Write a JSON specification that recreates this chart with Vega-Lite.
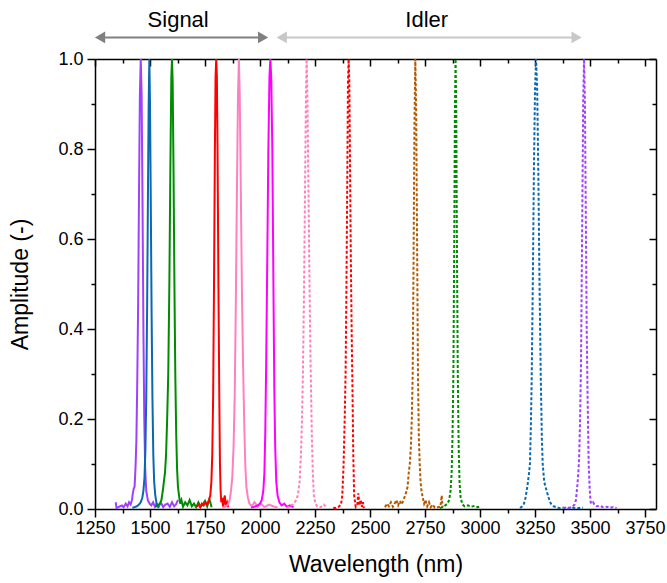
{
  "$schema": "https://vega.github.io/schema/vega-lite/v6.json",
  "width": 561,
  "height": 450,
  "autosize": {"type": "none"},
  "padding": {"left": 95, "top": 59, "right": 11, "bottom": 74},
  "background": "white",
  "config": {
    "view": {"stroke": null},
    "font": "Liberation Sans",
    "axis": {"grid": false, "domainColor": "black", "domainWidth": 1.5, "tickColor": "black", "tickWidth": 1.5, "labelColor": "black", "titleColor": "black", "labelFont": "Liberation Sans", "titleFont": "Liberation Sans", "labelFontSize": 18, "titleFontSize": 23, "titleFontWeight": "normal", "labelOverlap": false, "labelFlush": false}
  },
  "datasets": {
    "arrows": [
      {"s": "Signal", "a": 1242, "b": 2045, "m": 1628},
      {"s": "Idler", "a": 2068, "b": 3470, "m": 2758}
    ]
  },
  "data": {"values": [
    {"s":"S1","x":1344,"y":0.015},{"s":"S1","x":1348,"y":0.002},{"s":"S1","x":1360,"y":0.005},{"s":"S1","x":1372,"y":0.008},{"s":"S1","x":1380,"y":0.004},{"s":"S1","x":1390,"y":0.012},{"s":"S1","x":1398,"y":0.006},{"s":"S1","x":1405,"y":0.015},{"s":"S1","x":1412,"y":0.01},{"s":"S1","x":1418,"y":0.02},{"s":"S1","x":1422,"y":0.035},{"s":"S1","x":1426,"y":0.045},{"s":"S1","x":1430,"y":0.05},{"s":"S1","x":1434,"y":0.09},{"s":"S1","x":1438,"y":0.15},{"s":"S1","x":1442,"y":0.28},{"s":"S1","x":1446,"y":0.45},{"s":"S1","x":1450,"y":0.7},{"s":"S1","x":1454,"y":0.92},{"s":"S1","x":1458,"y":1.0},{"s":"S1","x":1462,"y":0.92},{"s":"S1","x":1466,"y":0.68},{"s":"S1","x":1470,"y":0.4},{"s":"S1","x":1474,"y":0.2},{"s":"S1","x":1478,"y":0.09},{"s":"S1","x":1483,"y":0.04},{"s":"S1","x":1490,"y":0.02},{"s":"S1","x":1498,"y":0.012},{"s":"S1","x":1506,"y":0.008},{"s":"S1","x":1514,"y":0.015},{"s":"S1","x":1522,"y":0.005},{"s":"S1","x":1530,"y":0.012},{"s":"S1","x":1540,"y":0.006},{"s":"S1","x":1550,"y":0.014},{"s":"S1","x":1560,"y":0.004},{"s":"S1","x":1570,"y":0.01},{"s":"S1","x":1580,"y":0.012},{"s":"S1","x":1590,"y":0.005},{"s":"S1","x":1600,"y":0.015},{"s":"S1","x":1610,"y":0.006},{"s":"S1","x":1618,"y":0.01},{"s":"S1","x":1627,"y":0.02},
    {"s":"S2","x":1420,"y":0.003},{"s":"S2","x":1430,"y":0.004},{"s":"S2","x":1440,"y":0.006},{"s":"S2","x":1450,"y":0.01},{"s":"S2","x":1458,"y":0.015},{"s":"S2","x":1465,"y":0.025},{"s":"S2","x":1470,"y":0.04},{"s":"S2","x":1475,"y":0.07},{"s":"S2","x":1479,"y":0.13},{"s":"S2","x":1483,"y":0.25},{"s":"S2","x":1487,"y":0.45},{"s":"S2","x":1491,"y":0.72},{"s":"S2","x":1494,"y":0.9},{"s":"S2","x":1497,"y":1.0},{"s":"S2","x":1500,"y":0.9},{"s":"S2","x":1503,"y":0.72},{"s":"S2","x":1507,"y":0.45},{"s":"S2","x":1511,"y":0.25},{"s":"S2","x":1515,"y":0.12},{"s":"S2","x":1519,"y":0.06},{"s":"S2","x":1524,"y":0.03},{"s":"S2","x":1530,"y":0.012},{"s":"S2","x":1536,"y":0.005},{"s":"S2","x":1542,"y":0.003},
    {"s":"S3","x":1523,"y":0.005},{"s":"S3","x":1535,"y":0.008},{"s":"S3","x":1545,"y":0.012},{"s":"S3","x":1552,"y":0.02},{"s":"S3","x":1558,"y":0.04},{"s":"S3","x":1563,"y":0.06},{"s":"S3","x":1568,"y":0.08},{"s":"S3","x":1573,"y":0.12},{"s":"S3","x":1578,"y":0.2},{"s":"S3","x":1583,"y":0.3},{"s":"S3","x":1588,"y":0.5},{"s":"S3","x":1593,"y":0.78},{"s":"S3","x":1597,"y":0.96},{"s":"S3","x":1600,"y":1.0},{"s":"S3","x":1603,"y":0.95},{"s":"S3","x":1607,"y":0.75},{"s":"S3","x":1611,"y":0.5},{"s":"S3","x":1615,"y":0.3},{"s":"S3","x":1619,"y":0.17},{"s":"S3","x":1623,"y":0.09},{"s":"S3","x":1627,"y":0.05},{"s":"S3","x":1632,"y":0.03},{"s":"S3","x":1637,"y":0.012},{"s":"S3","x":1643,"y":0.02},{"s":"S3","x":1650,"y":0.005},{"s":"S3","x":1660,"y":0.015},{"s":"S3","x":1670,"y":0.008},{"s":"S3","x":1680,"y":0.02},{"s":"S3","x":1690,"y":0.006},{"s":"S3","x":1700,"y":0.012},{"s":"S3","x":1710,"y":0.004},{"s":"S3","x":1720,"y":0.015},{"s":"S3","x":1730,"y":0.005},{"s":"S3","x":1740,"y":0.01},{"s":"S3","x":1750,"y":0.018},{"s":"S3","x":1760,"y":0.006},{"s":"S3","x":1770,"y":0.022},{"s":"S3","x":1780,"y":0.004},
    {"s":"S4","x":1712,"y":0.005},{"s":"S4","x":1720,"y":0.01},{"s":"S4","x":1728,"y":0.004},{"s":"S4","x":1736,"y":0.012},{"s":"S4","x":1744,"y":0.008},{"s":"S4","x":1752,"y":0.015},{"s":"S4","x":1760,"y":0.01},{"s":"S4","x":1768,"y":0.02},{"s":"S4","x":1774,"y":0.03},{"s":"S4","x":1779,"y":0.06},{"s":"S4","x":1783,"y":0.12},{"s":"S4","x":1787,"y":0.25},{"s":"S4","x":1791,"y":0.5},{"s":"S4","x":1795,"y":0.8},{"s":"S4","x":1798,"y":0.96},{"s":"S4","x":1801,"y":1.0},{"s":"S4","x":1804,"y":0.96},{"s":"S4","x":1807,"y":0.8},{"s":"S4","x":1811,"y":0.5},{"s":"S4","x":1815,"y":0.25},{"s":"S4","x":1818,"y":0.1},{"s":"S4","x":1821,"y":0.04},{"s":"S4","x":1824,"y":0.015},{"s":"S4","x":1828,"y":0.025},{"s":"S4","x":1832,"y":0.005},{"s":"S4","x":1836,"y":0.02},{"s":"S4","x":1840,"y":0.03},{"s":"S4","x":1844,"y":0.008},{"s":"S4","x":1850,"y":0.015},{"s":"S4","x":1855,"y":0.004},
    {"s":"S5","x":1830,"y":0.003},{"s":"S5","x":1845,"y":0.006},{"s":"S5","x":1855,"y":0.01},{"s":"S5","x":1862,"y":0.02},{"s":"S5","x":1868,"y":0.04},{"s":"S5","x":1874,"y":0.07},{"s":"S5","x":1880,"y":0.14},{"s":"S5","x":1885,"y":0.25},{"s":"S5","x":1890,"y":0.45},{"s":"S5","x":1895,"y":0.7},{"s":"S5","x":1900,"y":0.92},{"s":"S5","x":1904,"y":1.0},{"s":"S5","x":1908,"y":0.92},{"s":"S5","x":1913,"y":0.7},{"s":"S5","x":1918,"y":0.48},{"s":"S5","x":1923,"y":0.32},{"s":"S5","x":1928,"y":0.2},{"s":"S5","x":1933,"y":0.1},{"s":"S5","x":1938,"y":0.05},{"s":"S5","x":1945,"y":0.025},{"s":"S5","x":1952,"y":0.012},{"s":"S5","x":1962,"y":0.006},{"s":"S5","x":1975,"y":0.015},{"s":"S5","x":1990,"y":0.005},{"s":"S5","x":2005,"y":0.012},{"s":"S5","x":2020,"y":0.004},{"s":"S5","x":2040,"y":0.01},{"s":"S5","x":2060,"y":0.006},{"s":"S5","x":2080,"y":0.003},
    {"s":"S6","x":1960,"y":0.003},{"s":"S6","x":1975,"y":0.005},{"s":"S6","x":1990,"y":0.008},{"s":"S6","x":2000,"y":0.012},{"s":"S6","x":2008,"y":0.02},{"s":"S6","x":2015,"y":0.04},{"s":"S6","x":2020,"y":0.08},{"s":"S6","x":2024,"y":0.17},{"s":"S6","x":2028,"y":0.32},{"s":"S6","x":2033,"y":0.55},{"s":"S6","x":2038,"y":0.8},{"s":"S6","x":2043,"y":0.96},{"s":"S6","x":2047,"y":1.0},{"s":"S6","x":2051,"y":0.96},{"s":"S6","x":2056,"y":0.8},{"s":"S6","x":2061,"y":0.5},{"s":"S6","x":2065,"y":0.27},{"s":"S6","x":2069,"y":0.14},{"s":"S6","x":2074,"y":0.06},{"s":"S6","x":2080,"y":0.03},{"s":"S6","x":2088,"y":0.015},{"s":"S6","x":2098,"y":0.008},{"s":"S6","x":2110,"y":0.012},{"s":"S6","x":2122,"y":0.005},{"s":"S6","x":2135,"y":0.008},{"s":"S6","x":2153,"y":0.004},
    {"s":"I1","x":2120,"y":0.002},{"s":"I1","x":2135,"y":0.006},{"s":"I1","x":2150,"y":0.01},{"s":"I1","x":2162,"y":0.018},{"s":"I1","x":2172,"y":0.03},{"s":"I1","x":2180,"y":0.06},{"s":"I1","x":2186,"y":0.12},{"s":"I1","x":2191,"y":0.2},{"s":"I1","x":2195,"y":0.3},{"s":"I1","x":2200,"y":0.48},{"s":"I1","x":2205,"y":0.72},{"s":"I1","x":2209,"y":0.93},{"s":"I1","x":2212,"y":1.0},{"s":"I1","x":2215,"y":0.93},{"s":"I1","x":2220,"y":0.72},{"s":"I1","x":2225,"y":0.5},{"s":"I1","x":2230,"y":0.32},{"s":"I1","x":2235,"y":0.18},{"s":"I1","x":2240,"y":0.08},{"s":"I1","x":2245,"y":0.03},{"s":"I1","x":2252,"y":0.012},{"s":"I1","x":2260,"y":0.006},{"s":"I1","x":2275,"y":0.004},{"s":"I1","x":2290,"y":0.01},{"s":"I1","x":2303,"y":0.004},
    {"s":"I2","x":2333,"y":0.003},{"s":"I2","x":2345,"y":0.002},{"s":"I2","x":2358,"y":0.005},{"s":"I2","x":2368,"y":0.01},{"s":"I2","x":2374,"y":0.03},{"s":"I2","x":2380,"y":0.1},{"s":"I2","x":2385,"y":0.2},{"s":"I2","x":2389,"y":0.3},{"s":"I2","x":2393,"y":0.5},{"s":"I2","x":2397,"y":0.75},{"s":"I2","x":2400,"y":0.95},{"s":"I2","x":2403,"y":1.0},{"s":"I2","x":2406,"y":0.95},{"s":"I2","x":2409,"y":0.78},{"s":"I2","x":2413,"y":0.55},{"s":"I2","x":2417,"y":0.38},{"s":"I2","x":2420,"y":0.28},{"s":"I2","x":2424,"y":0.12},{"s":"I2","x":2428,"y":0.03},{"s":"I2","x":2435,"y":0.005},{"s":"I2","x":2442,"y":0.01},{"s":"I2","x":2447,"y":0.035},{"s":"I2","x":2452,"y":0.008},{"s":"I2","x":2458,"y":0.02},{"s":"I2","x":2463,"y":0.005},{"s":"I2","x":2468,"y":0.015},{"s":"I2","x":2472,"y":0.002},
    {"s":"I3","x":2568,"y":0.004},{"s":"I3","x":2578,"y":0.012},{"s":"I3","x":2586,"y":0.006},{"s":"I3","x":2595,"y":0.015},{"s":"I3","x":2604,"y":0.005},{"s":"I3","x":2612,"y":0.012},{"s":"I3","x":2620,"y":0.02},{"s":"I3","x":2628,"y":0.008},{"s":"I3","x":2636,"y":0.018},{"s":"I3","x":2644,"y":0.01},{"s":"I3","x":2652,"y":0.02},{"s":"I3","x":2660,"y":0.03},{"s":"I3","x":2666,"y":0.04},{"s":"I3","x":2671,"y":0.05},{"s":"I3","x":2676,"y":0.08},{"s":"I3","x":2681,"y":0.1},{"s":"I3","x":2686,"y":0.14},{"s":"I3","x":2690,"y":0.2},{"s":"I3","x":2694,"y":0.3},{"s":"I3","x":2698,"y":0.55},{"s":"I3","x":2702,"y":0.85},{"s":"I3","x":2706,"y":1.0},{"s":"I3","x":2710,"y":0.88},{"s":"I3","x":2714,"y":0.6},{"s":"I3","x":2718,"y":0.3},{"s":"I3","x":2722,"y":0.16},{"s":"I3","x":2726,"y":0.1},{"s":"I3","x":2730,"y":0.06},{"s":"I3","x":2734,"y":0.04},{"s":"I3","x":2740,"y":0.025},{"s":"I3","x":2746,"y":0.012},{"s":"I3","x":2752,"y":0.02},{"s":"I3","x":2760,"y":0.006},{"s":"I3","x":2768,"y":0.015},{"s":"I3","x":2776,"y":0.004},{"s":"I3","x":2784,"y":0.01},{"s":"I3","x":2795,"y":0.003},{"s":"I3","x":2810,"y":0.004},{"s":"I3","x":2820,"y":0.005},{"s":"I3","x":2826,"y":0.03},{"s":"I3","x":2830,"y":0.004},
    {"s":"I4","x":2818,"y":0.002},{"s":"I4","x":2830,"y":0.004},{"s":"I4","x":2842,"y":0.008},{"s":"I4","x":2852,"y":0.012},{"s":"I4","x":2860,"y":0.02},{"s":"I4","x":2866,"y":0.04},{"s":"I4","x":2871,"y":0.08},{"s":"I4","x":2875,"y":0.16},{"s":"I4","x":2879,"y":0.3},{"s":"I4","x":2883,"y":0.6},{"s":"I4","x":2886,"y":0.88},{"s":"I4","x":2889,"y":1.0},{"s":"I4","x":2892,"y":0.88},{"s":"I4","x":2895,"y":0.6},{"s":"I4","x":2899,"y":0.3},{"s":"I4","x":2903,"y":0.14},{"s":"I4","x":2907,"y":0.06},{"s":"I4","x":2912,"y":0.025},{"s":"I4","x":2920,"y":0.01},{"s":"I4","x":2930,"y":0.006},{"s":"I4","x":2945,"y":0.008},{"s":"I4","x":2960,"y":0.005},{"s":"I4","x":2975,"y":0.007},{"s":"I4","x":2990,"y":0.004},{"s":"I4","x":3004,"y":0.006},
    {"s":"I5","x":3182,"y":0.002},{"s":"I5","x":3192,"y":0.006},{"s":"I5","x":3200,"y":0.012},{"s":"I5","x":3207,"y":0.025},{"s":"I5","x":3212,"y":0.04},{"s":"I5","x":3218,"y":0.06},{"s":"I5","x":3223,"y":0.08},{"s":"I5","x":3227,"y":0.1},{"s":"I5","x":3231,"y":0.18},{"s":"I5","x":3235,"y":0.29},{"s":"I5","x":3240,"y":0.5},{"s":"I5","x":3245,"y":0.75},{"s":"I5","x":3250,"y":0.93},{"s":"I5","x":3255,"y":1.0},{"s":"I5","x":3260,"y":0.93},{"s":"I5","x":3265,"y":0.75},{"s":"I5","x":3270,"y":0.52},{"s":"I5","x":3276,"y":0.3},{"s":"I5","x":3281,"y":0.16},{"s":"I5","x":3285,"y":0.1},{"s":"I5","x":3292,"y":0.06},{"s":"I5","x":3303,"y":0.04},{"s":"I5","x":3312,"y":0.025},{"s":"I5","x":3322,"y":0.012},{"s":"I5","x":3335,"y":0.006},{"s":"I5","x":3348,"y":0.004},{"s":"I5","x":3360,"y":0.002},{"s":"I5","x":3380,"y":0.003},{"s":"I5","x":3400,"y":0.001},{"s":"I5","x":3420,"y":0.003},{"s":"I5","x":3445,"y":0.002},{"s":"I5","x":3468,"y":0.003},
    {"s":"I6","x":3379,"y":0.002},{"s":"I6","x":3395,"y":0.004},{"s":"I6","x":3410,"y":0.003},{"s":"I6","x":3422,"y":0.006},{"s":"I6","x":3430,"y":0.01},{"s":"I6","x":3436,"y":0.02},{"s":"I6","x":3442,"y":0.05},{"s":"I6","x":3447,"y":0.08},{"s":"I6","x":3451,"y":0.12},{"s":"I6","x":3455,"y":0.2},{"s":"I6","x":3459,"y":0.32},{"s":"I6","x":3464,"y":0.6},{"s":"I6","x":3469,"y":0.9},{"s":"I6","x":3473,"y":1.0},{"s":"I6","x":3477,"y":0.9},{"s":"I6","x":3481,"y":0.65},{"s":"I6","x":3485,"y":0.4},{"s":"I6","x":3489,"y":0.25},{"s":"I6","x":3494,"y":0.1},{"s":"I6","x":3499,"y":0.04},{"s":"I6","x":3503,"y":0.015},{"s":"I6","x":3508,"y":0.012},{"s":"I6","x":3514,"y":0.015},{"s":"I6","x":3520,"y":0.01},{"s":"I6","x":3530,"y":0.006},{"s":"I6","x":3545,"y":0.007},{"s":"I6","x":3560,"y":0.004},{"s":"I6","x":3575,"y":0.005},{"s":"I6","x":3590,"y":0.003},{"s":"I6","x":3605,"y":0.004},{"s":"I6","x":3621,"y":0.002}
  ]},
  "layer": [
    {
      "mark": {"type": "line", "strokeWidth": 2, "interpolate": "linear"},
      "encoding": {
        "x": {"field": "x", "type": "quantitative", "scale": {"domain": [1250, 3800], "nice": false, "zero": false},
          "axis": {"orient": "bottom", "title": "Wavelength (nm)", "titlePadding": 16,
            "values": [1250,1375,1500,1625,1750,1875,2000,2125,2250,2375,2500,2625,2750,2875,3000,3125,3250,3375,3500,3625,3750],
            "format": "d",
            "labelExpr": "datum.value % 250 === 0 ? datum.label : ''",
            "tickSize": {"condition": {"test": "datum.value % 250 === 0", "value": 8}, "value": 4},
            "labelPadding": 2}},
        "y": {"field": "y", "type": "quantitative", "scale": {"domain": [0, 1], "nice": false, "zero": false},
          "axis": {"orient": "left", "title": "Amplitude (-)", "titlePadding": 25,
            "values": [0,0.1,0.2,0.3,0.4,0.5,0.6,0.7,0.8,0.9,1],
            "format": ".1f",
            "labelExpr": "round(datum.value * 10) % 2 === 0 ? datum.label : ''",
            "tickSize": {"condition": {"test": "round(datum.value * 10) % 2 === 0", "value": 8}, "value": 4},
            "labelPadding": 4}},
        "color": {"field": "s", "type": "nominal", "legend": null,
          "scale": {"domain": ["S1","S2","S3","S4","S5","S6","I1","I2","I3","I4","I5","I6","Signal","Idler"],
            "range": ["#a040ff","#0a68b0","#008c00","#ff0000","#ff80c0","#ff00ff","#ff80c0","#ff0000","#b35a00","#008c00","#0a68b0","#a040ff","#808080","#c8c8c8"]}},
        "strokeDash": {"field": "s", "type": "nominal", "legend": null,
          "scale": {"domain": ["S1","S2","S3","S4","S5","S6","I1","I2","I3","I4","I5","I6"],
            "range": [[1,0],[1,0],[1,0],[1,0],[1,0],[1,0],[3,2],[3,2],[3,2],[3,2],[3,2],[3,2]]}}
      }
    },
    {
      "mark": {"type": "point", "opacity": 0, "size": 1},
      "encoding": {
        "x": {"field": "x", "type": "quantitative", "scale": {"domain": [1250, 3800], "nice": false, "zero": false},
          "axis": {"orient": "top", "title": null, "labels": false,
            "values": [1250,1375,1500,1625,1750,1875,2000,2125,2250,2375,2500,2625,2750,2875,3000,3125,3250,3375,3500,3625,3750],
            "tickSize": {"condition": {"test": "datum.value % 250 === 0", "value": -7}, "value": -4}}},
        "y": {"field": "y", "type": "quantitative", "scale": {"domain": [0, 1], "nice": false, "zero": false},
          "axis": {"orient": "right", "title": null, "labels": false,
            "values": [0,0.1,0.2,0.3,0.4,0.5,0.6,0.7,0.8,0.9,1],
            "tickSize": {"condition": {"test": "round(datum.value * 10) % 2 === 0", "value": -7}, "value": -4}}}
      }
    },
    {
      "data": {"name": "arrows"},
      "mark": {"type": "rule", "strokeWidth": 2, "xOffset": 6, "x2Offset": -6},
      "encoding": {
        "x": {"field": "a", "type": "quantitative", "axis": null, "scale": {"domain": [1250, 3800], "nice": false, "zero": false}},
        "x2": {"field": "b"},
        "y": {"datum": 1.048, "axis": null, "scale": {"domain": [0, 1], "nice": false, "zero": false}},
        "color": {"field": "s", "type": "nominal", "legend": null}
      }
    },
    {
      "data": {"name": "arrows"},
      "mark": {"type": "point", "shape": "triangle-left", "filled": true, "opacity": 1, "size": 140, "xOffset": 6.8},
      "encoding": {
        "x": {"field": "a", "type": "quantitative", "axis": null, "scale": {"domain": [1250, 3800], "nice": false, "zero": false}},
        "y": {"datum": 1.048, "axis": null, "scale": {"domain": [0, 1], "nice": false, "zero": false}},
        "color": {"field": "s", "type": "nominal", "legend": null}
      }
    },
    {
      "data": {"name": "arrows"},
      "mark": {"type": "point", "shape": "triangle-right", "filled": true, "opacity": 1, "size": 140, "xOffset": -6.8},
      "encoding": {
        "x": {"field": "b", "type": "quantitative", "axis": null, "scale": {"domain": [1250, 3800], "nice": false, "zero": false}},
        "y": {"datum": 1.048, "axis": null, "scale": {"domain": [0, 1], "nice": false, "zero": false}},
        "color": {"field": "s", "type": "nominal", "legend": null}
      }
    },
    {
      "data": {"name": "arrows"},
      "mark": {"type": "text", "fontSize": 22, "font": "Liberation Sans", "baseline": "alphabetic", "align": "center", "color": "black"},
      "encoding": {
        "x": {"field": "m", "type": "quantitative", "axis": null, "scale": {"domain": [1250, 3800], "nice": false, "zero": false}},
        "y": {"datum": 1.0718, "axis": null, "scale": {"domain": [0, 1], "nice": false, "zero": false}},
        "text": {"field": "s"}
      }
    }
  ],
  "resolve": {"axis": {"x": "independent", "y": "independent"}}
}
